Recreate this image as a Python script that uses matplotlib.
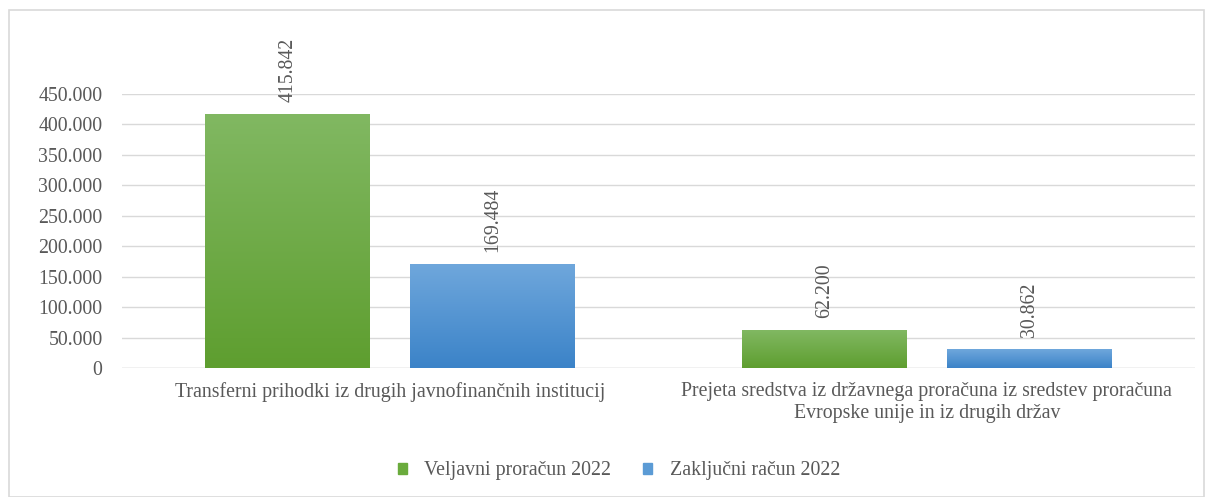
import matplotlib.pyplot as plt
import numpy as np
from matplotlib.colors import LinearSegmentedColormap
from matplotlib.patches import Rectangle
from matplotlib.ticker import FuncFormatter

categories = [
    "Transferni prihodki iz drugih javnofinančnih institucij",
    "Prejeta sredstva iz državnega proračuna iz sredstev proračuna\nEvropske unije in iz drugih držav",
]
series_names = ["Veljavni proračun 2022", "Zaključni račun 2022"]
veljavni = [415842, 62200]
zakljucni = [169484, 30862]

plt.rcParams["font.family"] = ["Liberation Serif", "DejaVu Serif"]
TEXT = "#595959"
FS = 14.3

fig = plt.figure(figsize=(12.06, 4.97), dpi=100)
fig.patches.append(Rectangle((9 / 1206, 0), 1195 / 1206, 487 / 497, transform=fig.transFigure,
                             fill=False, edgecolor="#d9d9d9", linewidth=1.2))
ax = fig.add_axes([122 / 1206, 1 - 368 / 497, 1073 / 1206, 274 / 497])

x = np.arange(len(categories))
width = 0.3075
offset = 0.191
grad = np.linspace(0, 1, 256).reshape(-1, 1)
series = [
    (veljavni, -offset, ["#5e9e2f", "#81b862"], "#6aab3c"),
    (zakljucni, offset, ["#3b83c8", "#6fa7dc"], "#5b9bd5"),
]
for values, off, cols, legend_col in series:
    cmap = LinearSegmentedColormap.from_list("g", cols)
    for xi, v in zip(x, values):
        left = xi + off - width / 2
        ax.bar(xi + off, v, width, color=legend_col, zorder=2)
        ax.imshow(grad, cmap=cmap, origin="lower", aspect="auto",
                  extent=(left, left + width, 0, v), zorder=3)
        ax.annotate(f"{v:,}".replace(",", "."), (xi + off, v), xytext=(0, 9),
                    textcoords="offset points", rotation=90, ha="center", va="bottom",
                    fontsize=FS, color=TEXT, annotation_clip=False)

ax.set_xlim(-0.5, 1.5)
ax.set_ylim(0, 450000)
ax.set_yticks(np.arange(0, 450001, 50000))
ax.yaxis.set_major_formatter(FuncFormatter(lambda v, _: f"{int(v):,}".replace(",", ".")))
ax.set_xticks(x)
ax.set_xticklabels(categories, fontsize=FS, color=TEXT, linespacing=1.2)
ax.tick_params(axis="y", length=0, pad=14, labelsize=FS, labelcolor=TEXT)
ax.tick_params(axis="x", length=0, pad=10)
ax.grid(axis="y", color="#d9d9d9", linewidth=1, zorder=0)
ax.set_axisbelow(True)
for s in ax.spines.values():
    s.set_visible(False)
ax.axhline(0, color="#d9d9d9", linewidth=1, zorder=1)

handles = [Rectangle((0, 0), 1, 1, color=c) for c in ("#6aab3c", "#5b9bd5")]
fig.legend(handles, series_names, loc="center", bbox_to_anchor=(619 / 1206, 1 - 471 / 497),
           ncol=2, frameon=False, fontsize=FS, labelcolor=TEXT, handlelength=0.45,
           handleheight=0.45, columnspacing=1.6, handletextpad=0.9)

fig.savefig("out.png", dpi=100)
